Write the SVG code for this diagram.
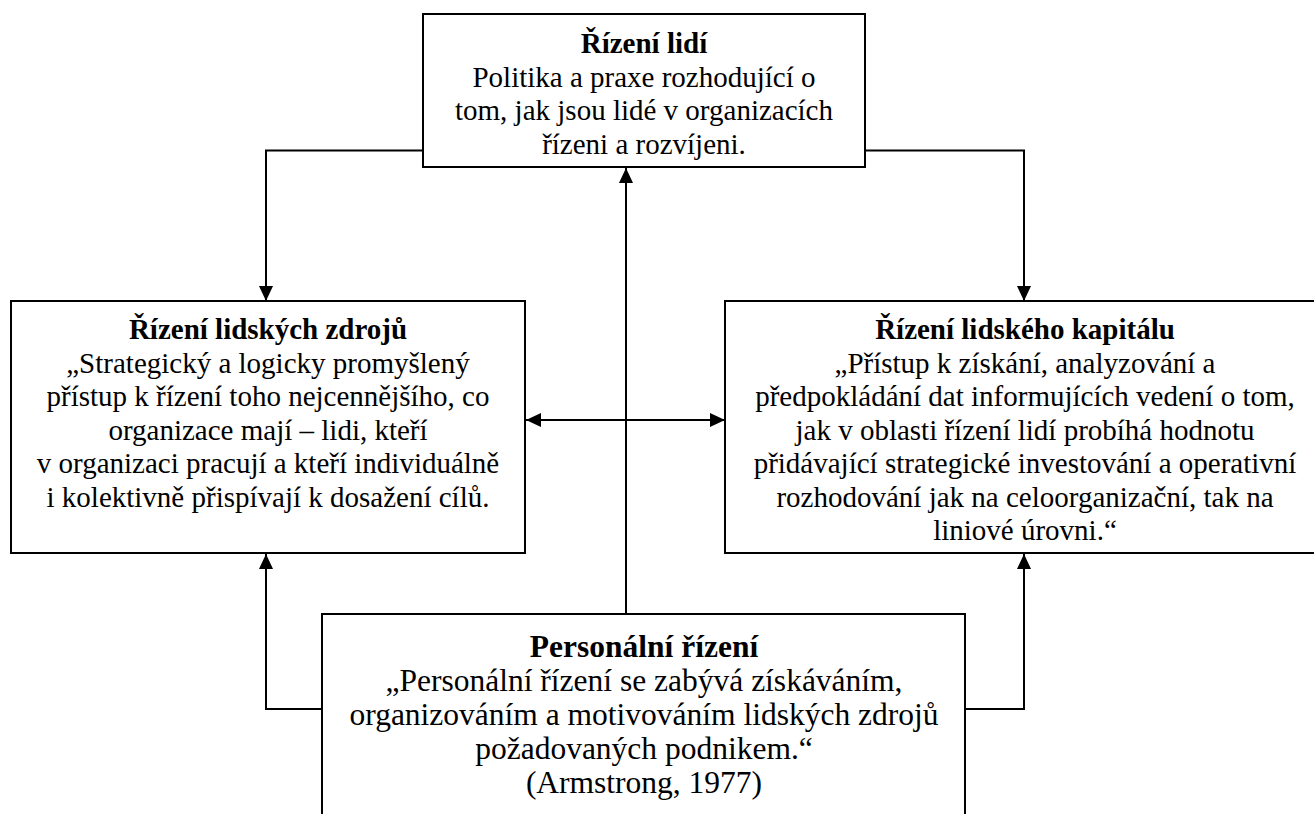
<svg xmlns="http://www.w3.org/2000/svg" width="1314" height="814" viewBox="0 0 1314 814">
<defs>
<marker id="ah" markerUnits="userSpaceOnUse" markerWidth="16" markerHeight="14" refX="15" refY="7" orient="auto-start-reverse">
<path d="M0,0 L15,7 L0,14 z" fill="#000"/>
</marker>
<style>
.box{fill:#fff;stroke:#000;stroke-width:2}
.t{font-family:"Liberation Serif","Times New Roman",serif;font-size:29px;fill:#000;text-anchor:middle}
.b{font-weight:bold}
.big{font-size:31.5px}
.c{fill:none;stroke:#000;stroke-width:2}
</style>
</defs>
<rect width="1314" height="814" fill="#fff"/>
<g id="connectors">
<polyline class="c" points="423,150.5 266,150.5 266,301" marker-end="url(#ah)"/>
<polyline class="c" points="865,150.5 1024,150.5 1024,301" marker-end="url(#ah)"/>
<line class="c" x1="626" y1="614" x2="626" y2="168" marker-end="url(#ah)"/>
<line class="c" x1="526" y1="420" x2="725" y2="420" marker-start="url(#ah)" marker-end="url(#ah)"/>
<polyline class="c" points="322,709 266,709 266,554" marker-end="url(#ah)"/>
<polyline class="c" points="965,709 1024,709 1024,554" marker-end="url(#ah)"/>
</g>
<g id="rizeni-lidi">
<rect class="box" x="423" y="14" width="442" height="153"/>
<text class="t b" x="644" y="53">Řízení lidí</text>
<text class="t" x="644" y="86.5">Politika a praxe rozhodující o</text>
<text class="t" x="644" y="120">tom, jak jsou lidé v organizacích</text>
<text class="t" x="644" y="153.5">řízeni a rozvíjeni.</text>
</g>
<g id="rizeni-lidskych-zdroju">
<rect class="box" x="11" y="301" width="514" height="252"/>
<text class="t b" x="268" y="339">Řízení lidských zdrojů</text>
<text class="t" x="268" y="372.5">„Strategický a logicky promyšlený</text>
<text class="t" x="268" y="406">přístup k řízení toho nejcennějšího, co</text>
<text class="t" x="268" y="439.5">organizace mají – lidi, kteří</text>
<text class="t" x="268" y="473">v organizaci pracují a kteří individuálně</text>
<text class="t" x="268" y="506.5">i kolektivně přispívají k dosažení cílů.</text>
</g>
<g id="rizeni-lidskeho-kapitalu">
<rect class="box" x="725" y="301" width="600" height="252"/>
<text class="t b" x="1025" y="339">Řízení lidského kapitálu</text>
<text class="t" x="1025" y="372.5">„Přístup k získání, analyzování a</text>
<text class="t" x="1025" y="406">předpokládání dat informujících vedení o tom,</text>
<text class="t" x="1025" y="439.5">jak v oblasti řízení lidí probíhá hodnotu</text>
<text class="t" x="1025" y="473">přidávající strategické investování a operativní</text>
<text class="t" x="1025" y="506.5">rozhodování jak na celoorganizační, tak na</text>
<text class="t" x="1025" y="540">liniové úrovni.“</text>
</g>
<g id="personalni-rizeni">
<rect class="box" x="322" y="614" width="643" height="220"/>
<text class="t big b" x="644" y="657">Personální řízení</text>
<text class="t big" x="644" y="691">„Personální řízení se zabývá získáváním,</text>
<text class="t big" x="644" y="725">organizováním a motivováním lidských zdrojů</text>
<text class="t big" x="644" y="759">požadovaných podnikem.“</text>
<text class="t big" x="644" y="793">(Armstrong, 1977)</text>
</g>
</svg>
